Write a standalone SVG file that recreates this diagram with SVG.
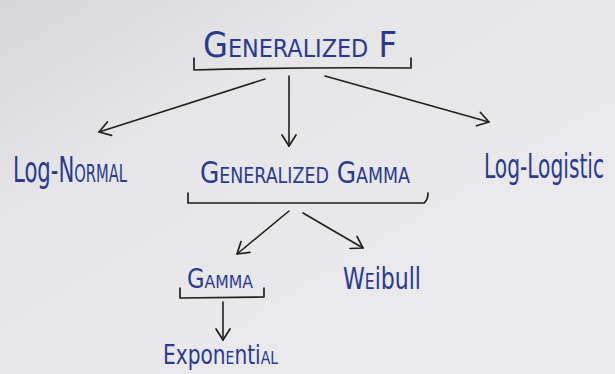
<svg xmlns="http://www.w3.org/2000/svg" width="615" height="374" viewBox="0 0 615 374">
<defs>
<linearGradient id="bg" x1="0" y1="0" x2="1" y2="1">
<stop offset="0" stop-color="#d6d6d8"/>
<stop offset="0.3" stop-color="#e6e6e8"/>
<stop offset="1" stop-color="#ececee"/>
</linearGradient>
<marker id="ah" viewBox="-13 -9 15 18" refX="0" refY="0" markerWidth="15" markerHeight="18" markerUnits="userSpaceOnUse" orient="auto">
<path d="M-11,-7 L0,0 L-11,7" fill="none" stroke="#1f1f1f" stroke-width="1.7" stroke-linecap="round" stroke-linejoin="round"/>
</marker>
</defs>
<style>
.t{font-family:"Liberation Sans Narrow","DejaVu Sans Condensed","Liberation Sans",sans-serif;fill:#2a3a8e;}
.sc{font-variant:small-caps;}
.br{fill:none;stroke:#1f1f1f;stroke-width:1.7;stroke-linecap:round;stroke-linejoin:round;}
.c{fill:none;stroke:#1f1f1f;stroke-width:1.6;stroke-linecap:round;marker-end:url(#ah);}
</style>
<rect x="0" y="0" width="615" height="374" fill="url(#bg)"/>
<g id="generalized-f">
<text class="t sc" x="203" y="57" font-size="36" textLength="194" lengthAdjust="spacingAndGlyphs">Generalized F</text>
<path class="br" d="M194,58 L194,70 Q300,67 411,68 L411,58"/>
</g>
<g id="log-normal">
<text class="t" x="13" y="182" font-size="36" textLength="114" lengthAdjust="spacingAndGlyphs">Log-N<tspan class="sc">ormal</tspan></text>
</g>
<g id="generalized-gamma">
<text class="t sc" x="200" y="183" font-size="30" textLength="210" lengthAdjust="spacingAndGlyphs">Generalized Gamma</text>
<path class="br" d="M188,193 L188,203 L424,203 Q428,200 428,193"/>
</g>
<g id="log-logistic">
<text class="t" x="484" y="178" font-size="33" textLength="120" lengthAdjust="spacingAndGlyphs">Log-Logistic</text>
</g>
<g id="gamma">
<text class="t sc" x="187" y="288" font-size="26" textLength="66" lengthAdjust="spacingAndGlyphs">Gamma</text>
<path class="br" d="M180,288 L180,298 L264,297 L264,288"/>
</g>
<g id="weibull">
<text class="t" x="343" y="289" font-size="31" textLength="78" lengthAdjust="spacingAndGlyphs">W<tspan class="sc">e</tspan>ibull</text>
</g>
<g id="exponential">
<text class="t" x="163" y="364" font-size="26" textLength="115" lengthAdjust="spacingAndGlyphs">Expon<tspan class="sc">e</tspan>nti<tspan class="sc">al</tspan></text>
</g>
<g id="connectors">
<path class="c" d="M265,79 L99,132"/>
<path class="c" d="M289,76 L289,146"/>
<path class="c" d="M325,76 L489,122"/>
<path class="c" d="M289,211 L237,254"/>
<path class="c" d="M303,213 L363,248"/>
<path class="c" d="M223,302 L223,340"/>
</g>
</svg>
